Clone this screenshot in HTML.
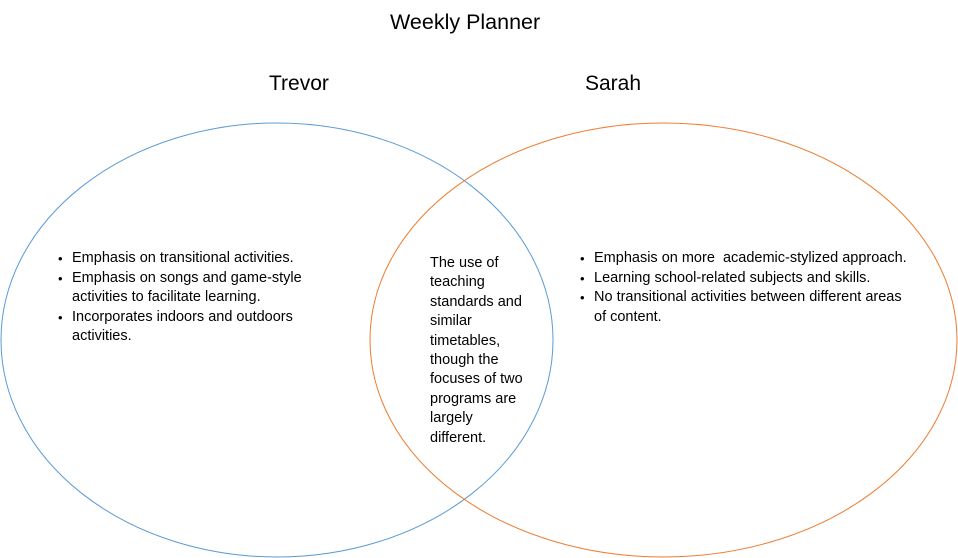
<!DOCTYPE html>
<html><head><meta charset="utf-8"><style>
body{margin:0;width:958px;height:558px;background:#fff;overflow:hidden;position:relative;font-family:"Liberation Sans",sans-serif;color:#000}
.t{position:absolute;white-space:nowrap}
.l{position:absolute;font-size:14.5px;line-height:19.5px}
.l div{position:relative;padding-left:14px;white-space:nowrap}
.l div:before{content:"•";position:absolute;left:0;top:0;font-size:13px}
</style></head><body>
<svg width="958" height="558" style="position:absolute;left:0;top:0">
<ellipse cx="277" cy="340" rx="276" ry="217" fill="none" stroke="#5b9bd5" stroke-width="1"/>
<ellipse cx="663.5" cy="340" rx="293.5" ry="217" fill="none" stroke="#ed7d31" stroke-width="1"/>
</svg>
<div class="t" style="left:390px;top:10px;font-size:21.5px">Weekly Planner</div>
<div class="t" style="left:269px;top:72px;font-size:21px">Trevor</div>
<div class="t" style="left:585px;top:72px;font-size:21px">Sarah</div>
<div class="l" style="left:58px;top:249px">
<div>Emphasis on transitional activities.</div>
<div>Emphasis on songs and game-style<br>activities to facilitate learning.</div>
<div>Incorporates indoors and outdoors<br>activities.</div>
</div>
<div class="l" style="left:580px;top:249px">
<div>Emphasis on more &nbsp;academic-stylized approach.</div>
<div>Learning school-related subjects and skills.</div>
<div>No transitional activities between different areas<br>of content.</div>
</div>
<div class="t" style="left:430px;top:254px;font-size:14.5px;line-height:19.4px">The use of<br>teaching<br>standards and<br>similar<br>timetables,<br>though the<br>focuses of two<br>programs are<br>largely<br>different.</div>
</body></html>
